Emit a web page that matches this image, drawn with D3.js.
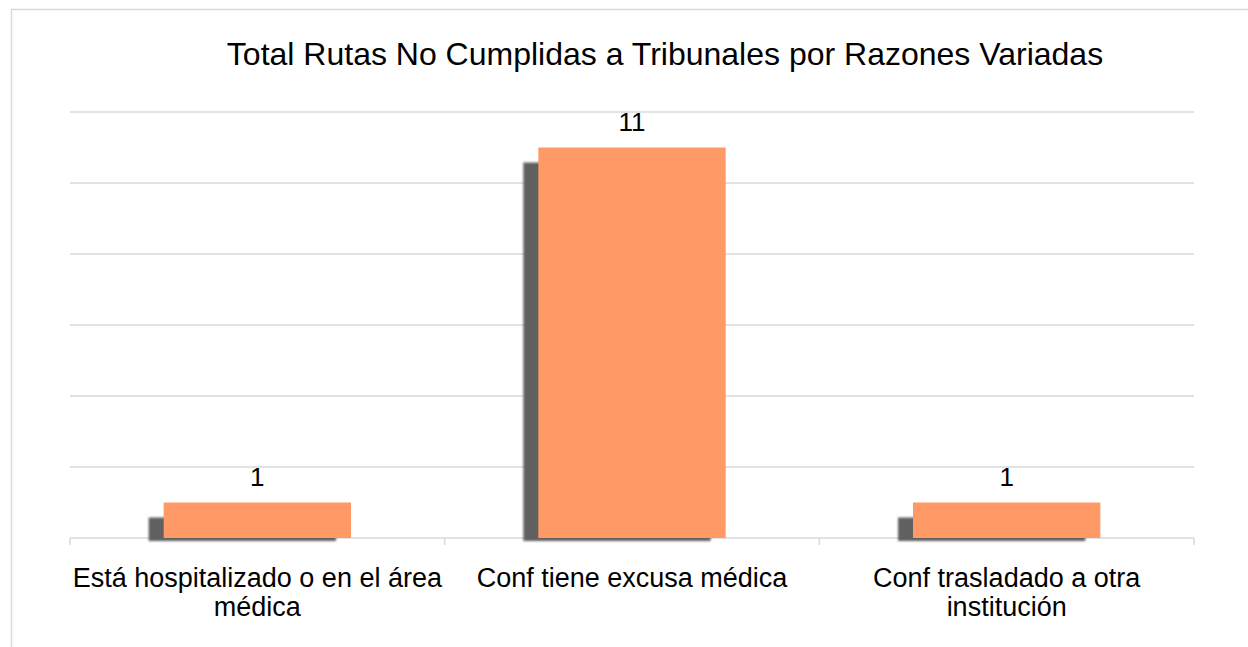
<!DOCTYPE html>
<html>
<head>
<meta charset="utf-8">
<script src="https://cdn.jsdelivr.net/npm/d3@7"></script>
<style>
  body { margin: 0; background: #fff; }
  text { font-family: "Liberation Sans", Arial, sans-serif; fill: #000; }
</style>
</head>
<body>
<svg id="chart" width="1248" height="647"></svg>
<script>
// chart data
const categories = ["Está hospitalizado o en el área médica", "Conf tiene excusa médica", "Conf trasladado a otra institución"];
const values = [1, 11, 1];
const yTicks = [0, 2, 4, 6, 8, 10, 12];
const title = "Total Rutas No Cumplidas a Tribunales por Razones Variadas";

const width = 1248, height = 647;
const margin = { top: 112, right: 54, bottom: 109, left: 70 };

const svg = d3.select("#chart");

// shadow blur
svg.append("defs").append("filter")
  .attr("id", "soft")
  .append("feGaussianBlur").attr("stdDeviation", 0.8);

// outer chart frame (runs off the page on the right / bottom)
svg.append("rect")
  .attr("x", 11.5).attr("y", 9.5)
  .attr("width", width + 20).attr("height", height + 20)
  .attr("fill", "#fff")
  .attr("stroke", "#d9d9d9")
  .attr("stroke-width", 1.5);

const x = d3.scaleBand()
  .domain(categories)
  .range([margin.left, width - margin.right])
  .paddingInner(0.5)
  .paddingOuter(0.25);

const y = d3.scaleLinear()
  .domain([0, 12])
  .range([height - margin.bottom, margin.top]);

// gridlines
svg.append("g")
  .selectAll("line")
  .data(yTicks)
  .join("line")
  .attr("x1", margin.left)
  .attr("x2", width - margin.right)
  .attr("y1", d => y(d))
  .attr("y2", d => y(d))
  .attr("stroke", "#d9d9d9")
  .attr("stroke-width", 1.5);

// category boundary ticks
const step = x.step();
const bounds = d3.range(categories.length + 1).map(i => margin.left + i * step);
svg.append("g")
  .selectAll("line")
  .data(bounds)
  .join("line")
  .attr("x1", d => d).attr("x2", d => d)
  .attr("y1", y(0)).attr("y2", y(0) + 7)
  .attr("stroke", "#d9d9d9")
  .attr("stroke-width", 1.5);

const data = categories.map((c, i) => ({ c, v: values[i] }));

// drop shadows
svg.append("g")
  .attr("filter", "url(#soft)")
  .selectAll("rect")
  .data(data)
  .join("rect")
  .attr("x", d => x(d.c) - 15)
  .attr("y", d => y(d.v) + 15)
  .attr("width", x.bandwidth())
  .attr("height", d => y(0) + 3 - (y(d.v) + 15))
  .attr("fill", "#606060");

// bars
svg.append("g")
  .selectAll("rect")
  .data(data)
  .join("rect")
  .attr("x", d => x(d.c))
  .attr("y", d => y(d.v))
  .attr("width", x.bandwidth())
  .attr("height", d => y(0) - y(d.v))
  .attr("fill", "#ff9966");

// value labels
svg.append("g")
  .selectAll("text")
  .data(data)
  .join("text")
  .attr("x", d => x(d.c) + x.bandwidth() / 2)
  .attr("y", d => y(d.v) - 17)
  .attr("text-anchor", "middle")
  .style("font-size", "26px")
  .text(d => d.v);

// category labels, wrapped to the band step
const catText = svg.append("g")
  .selectAll("text")
  .data(categories)
  .join("text")
  .attr("text-anchor", "middle")
  .attr("y", 587)
  .style("font-size", "27px");

catText.each(function (d) {
  const t = d3.select(this);
  const cx = x(d) + x.bandwidth() / 2;
  const words = d.split(" ");
  let line = [];
  let tspan = t.append("tspan").attr("x", cx).attr("dy", 0);
  words.forEach(w => {
    line.push(w);
    tspan.text(line.join(" "));
    if (tspan.node().getComputedTextLength() > step - 4 && line.length > 1) {
      line.pop();
      tspan.text(line.join(" "));
      line = [w];
      tspan = t.append("tspan").attr("x", cx).attr("dy", 29).text(w);
    }
  });
});

// title
svg.append("text")
  .attr("x", (margin.left + width - margin.right) / 2 + 33)
  .attr("y", 65)
  .attr("text-anchor", "middle")
  .style("font-size", "32px")
  .text(title);
</script>
</body>
</html>
